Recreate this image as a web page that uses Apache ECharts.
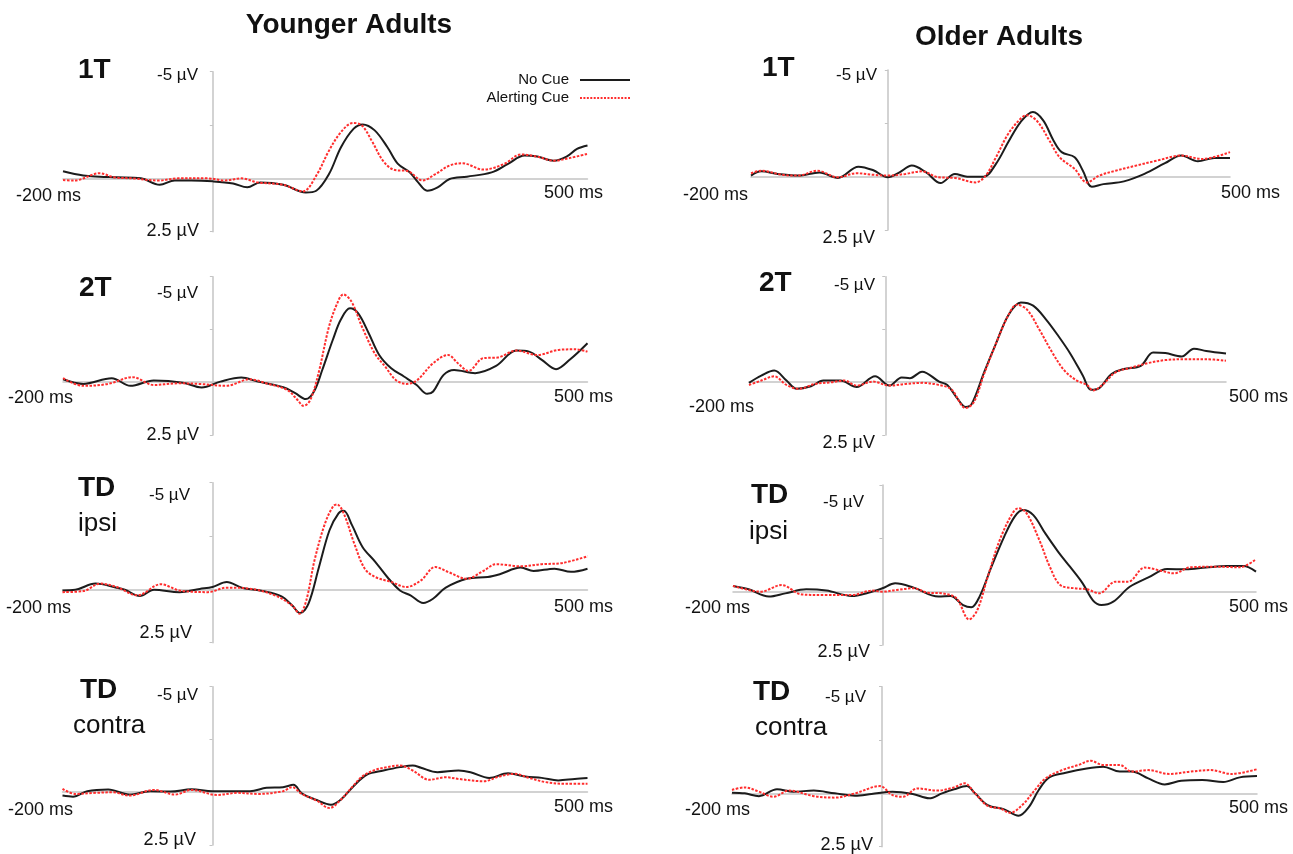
<!DOCTYPE html>
<html>
<head>
<meta charset="utf-8">
<script src="https://cdn.jsdelivr.net/npm/echarts@6/dist/echarts.min.js"></script>
<style>
html,body{margin:0;padding:0;background:#fff;}
#chart{width:1293px;height:854px;}
</style>
</head>
<body>
<div id="chart"></div>
<script>
// ---------- DATA (time in ms, amplitude in µV; negative plotted up) ----------
const columnTitles = ['Younger Adults', 'Older Adults'];
const seriesNames = ['No Cue', 'Alerting Cue'];
const panelTags = ['1T', '2T', 'TD', 'TD'];
const panelSubTags = ['', '', 'ipsi', 'contra'];
const yTopLabel = '-5 µV';
const yBottomLabel = '2.5 µV';
const xLeftLabel = '-200 ms';
const xRightLabel = '500 ms';

// Younger adults
const yng1T_noCue = [[-200,-0.33],[-173,-0.13],[-151,-0.08],[-129,-0.05],[-96,0],[-71,0.3],[-51,0.1],[-29,0.1],[0,0.14],[27,0.24],[46,0.42],[63,0.19],[94,0.3],[124,0.66],[138,0.58],[155,-0.2],[171,-1.46],[188,-2.33],[200,-2.53],[216,-2.25],[233,-1.46],[247,-0.68],[263,-0.28],[274,0.19],[286,0.58],[300,0.42],[316,0.03],[339,-0.08],[372,-0.28],[394,-0.68],[416,-1.07],[433,-1.02],[455,-0.83],[472,-1.02],[486,-1.38],[500,-1.54]];
const yng1T_alert = [[-200,0.08],[-185,0.1],[-151,-0.24],[-132,-0.05],[-107,0],[-73,0.1],[-46,0],[-7,0],[16,0.1],[38,0],[60,0.19],[94,0.3],[120,0.61],[138,-0.13],[155,-1.3],[171,-2.17],[187,-2.6],[199,-2.48],[213,-1.7],[227,-0.83],[241,-0.41],[261,-0.33],[280,0.1],[297,-0.2],[316,-0.6],[333,-0.71],[361,-0.41],[389,-0.68],[411,-1.12],[433,-1.02],[455,-0.83],[477,-0.96],[500,-1.15]];
const yng2T_noCue = [[-200,-0.14],[-173,0.08],[-135,-0.19],[-110,0.17],[-79,-0.08],[-40,0.02],[-15,0.25],[10,-0.03],[38,-0.22],[60,-0.03],[94,0.24],[110,0.52],[124,0.8],[135,0.44],[146,-0.58],[160,-2.0],[171,-2.98],[183,-3.5],[194,-3.26],[208,-2.32],[222,-1.29],[238,-0.66],[255,-0.27],[272,0.13],[286,0.55],[294,0.44],[308,-0.35],[322,-0.58],[350,-0.43],[378,-0.77],[405,-1.5],[422,-1.45],[439,-1.06],[458,-0.62],[477,-1.09],[500,-1.85]];
const yng2T_alert = [[-200,-0.19],[-173,0.17],[-140,0.08],[-107,-0.24],[-79,0.13],[-46,0.05],[-18,0.08],[18,0.17],[49,-0.14],[71,0.05],[99,0.36],[113,0.84],[121,1.12],[130,0.84],[141,-0.43],[155,-2.63],[166,-3.74],[174,-4.16],[185,-3.82],[199,-2.63],[216,-1.37],[230,-0.74],[244,-0.11],[258,0.08],[272,-0.08],[294,-0.9],[314,-1.29],[327,-0.9],[341,-0.54],[361,-1.14],[380,-1.17],[405,-1.5],[433,-1.29],[461,-1.53],[483,-1.56],[500,-1.45]];
const yngTDi_noCue = [[-200,0.05],[-183,0.02],[-156,-0.27],[-128,-0.08],[-117,0.02],[-97,0.31],[-78,0.02],[-44,0.13],[-17,-0.02],[0,-0.11],[19,-0.34],[39,-0.08],[67,0.08],[92,0.33],[106,0.75],[117,1.11],[128,0.67],[142,-1.05],[156,-2.77],[168,-3.56],[175,-3.68],[186,-3.01],[200,-1.99],[217,-1.29],[233,-0.58],[250,0.05],[264,0.28],[281,0.64],[294,0.44],[311,-0.08],[339,-0.5],[367,-0.58],[383,-0.71],[411,-1.02],[428,-0.86],[456,-0.97],[478,-0.82],[500,-0.97]];
const yngTDi_alert = [[-200,0.13],[-172,0.08],[-150,-0.27],[-128,-0.11],[-100,0.28],[-69,-0.24],[-44,0.05],[-6,0.13],[19,-0.08],[50,-0.03],[83,0.28],[106,0.75],[116,1.14],[125,0.52],[136,-1.36],[150,-3.09],[161,-3.9],[166,-3.98],[175,-3.56],[189,-2.15],[203,-0.97],[217,-0.58],[239,-0.34],[258,-0.11],[278,-0.42],[297,-1.05],[314,-0.82],[339,-0.5],[361,-0.86],[378,-1.18],[411,-1.08],[439,-1.18],[467,-1.24],[500,-1.55]];
const yngTDc_noCue = [[-200,0.16],[-186,0.21],[-167,-0.05],[-139,-0.13],[-111,0.11],[-83,-0.05],[-56,-0.03],[-28,-0.14],[0,-0.05],[28,-0.05],[50,-0.05],[72,-0.21],[94,-0.24],[108,-0.35],[119,0.05],[139,0.37],[158,0.59],[172,0.32],[189,-0.32],[206,-0.84],[228,-1.03],[250,-1.19],[267,-1.27],[278,-1.16],[300,-0.95],[328,-1.03],[344,-0.95],[369,-0.68],[394,-0.9],[417,-0.75],[439,-0.68],[461,-0.56],[483,-0.63],[500,-0.67]];
const yngTDc_alert = [[-200,-0.16],[-183,0.08],[-156,0.03],[-133,0],[-111,0.16],[-78,-0.11],[-50,0.11],[-28,-0.11],[6,0.13],[33,0.03],[61,0.08],[94,-0.05],[106,-0.24],[119,0.08],[139,0.4],[156,0.75],[169,0.43],[186,-0.24],[200,-0.75],[217,-1.06],[233,-1.19],[250,-1.27],[267,-1.03],[289,-0.59],[311,-0.71],[328,-0.63],[361,-0.52],[383,-0.75],[403,-0.87],[422,-0.68],[444,-0.48],[472,-0.4],[500,-0.4]];

// Older adults
const old1T_noCue = [[-200,-0.05],[-185,-0.25],[-161,-0.13],[-131,-0.05],[-100,-0.2],[-73,0.06],[-43,-0.47],[-22,-0.31],[0,0.03],[17,-0.2],[35,-0.52],[56,-0.2],[77,0.3],[98,-0.13],[116,0],[140,0],[158,-0.6],[176,-1.62],[194,-2.56],[212,-3.03],[227,-2.64],[242,-1.7],[254,-1.15],[273,-0.91],[285,-0.28],[298,0.47],[315,0.35],[345,0.22],[375,-0.13],[405,-0.63],[429,-0.99],[453,-0.72],[477,-0.88],[500,-0.88]];
const old1T_alert = [[-200,-0.16],[-185,-0.28],[-155,-0.09],[-131,-0.05],[-103,-0.28],[-73,0.03],[-46,-0.16],[-22,-0.09],[0,-0.05],[26,-0.13],[50,-0.25],[74,0.03],[98,0.06],[128,0.27],[143,-0.05],[158,-0.91],[176,-2.01],[194,-2.72],[203,-2.88],[218,-2.61],[236,-1.7],[251,-0.91],[273,-0.36],[291,0.27],[309,-0.05],[333,-0.28],[363,-0.52],[393,-0.75],[429,-0.99],[459,-0.83],[500,-1.15]];
const old2T_noCue = [[-200,0.03],[-182,-0.31],[-163,-0.55],[-145,-0.08],[-130,0.31],[-109,0.19],[-91,-0.08],[-66,-0.08],[-42,0.23],[-15,-0.28],[6,0.16],[24,-0.23],[36,-0.19],[54,-0.5],[79,-0.03],[91,0.13],[106,0.78],[118,1.17],[127,1.02],[145,-0.47],[163,-1.88],[181,-3.2],[199,-3.78],[217,-3.63],[236,-2.97],[254,-2.19],[272,-1.33],[290,-0.31],[302,0.36],[314,0.28],[332,-0.39],[350,-0.63],[375,-0.78],[393,-1.41],[411,-1.38],[435,-1.22],[453,-1.59],[471,-1.48],[500,-1.36]];
const old2T_alert = [[-200,0.13],[-182,-0.08],[-163,-0.28],[-145,0.13],[-127,0.31],[-103,0.08],[-79,0],[-60,-0.08],[-42,0.16],[-18,-0.03],[6,0.16],[30,0.08],[54,0.03],[79,0.13],[97,0.34],[118,1.22],[130,0.94],[145,-0.39],[163,-1.88],[181,-3.2],[193,-3.67],[208,-3.44],[226,-2.5],[245,-1.41],[263,-0.55],[281,-0.08],[296,0.13],[305,0.39],[320,0.08],[338,-0.47],[362,-0.7],[386,-0.91],[411,-1.05],[441,-1.09],[471,-1.09],[500,-1.02]];
const oldTDi_noCue = [[-200,-0.27],[-179,-0.11],[-152,0.23],[-130,0.08],[-102,-0.11],[-75,-0.05],[-41,0.2],[-19,0.05],[0,-0.16],[17,-0.39],[41,-0.2],[75,0.23],[91,0.2],[108,0.63],[119,0.73],[130,0.23],[146,-1.17],[163,-2.58],[177,-3.52],[188,-3.83],[202,-3.59],[218,-2.73],[235,-1.88],[251,-1.17],[268,-0.39],[282,0.42],[293,0.63],[309,0.47],[331,-0.23],[356,-0.67],[381,-1.06],[406,-1.05],[433,-1.13],[461,-1.2],[483,-1.2],[500,-0.94]];
const oldTDi_alert = [[-200,-0.27],[-179,-0.08],[-163,0],[-135,-0.31],[-108,0.13],[-75,0.16],[-41,0.16],[-14,-0.05],[0,0],[19,-0.08],[41,-0.16],[61,0.05],[80,0.08],[99,0.31],[116,1.3],[127,0.86],[141,-0.7],[157,-2.42],[174,-3.67],[182,-3.91],[193,-3.67],[210,-2.42],[224,-1.17],[238,-0.31],[257,-0.16],[274,-0.11],[290,0.08],[312,-0.47],[329,-0.47],[351,-1.13],[373,-0.98],[390,-0.86],[412,-1.14],[450,-1.17],[478,-1.14],[500,-1.52]];
const oldTDc_noCue = [[-200,-0.03],[-183,0],[-164,0.13],[-140,-0.19],[-118,-0.08],[-91,-0.13],[-63,0],[-36,0.11],[-14,0.03],[14,-0.08],[41,0.03],[63,0.23],[80,0],[96,-0.19],[113,-0.34],[124,0],[141,0.55],[163,0.75],[182,1.05],[196,0.63],[209,-0.16],[223,-0.75],[245,-0.97],[273,-1.17],[295,-1.25],[317,-1.02],[333,-1.02],[355,-0.7],[377,-0.42],[399,-0.59],[427,-0.63],[455,-0.53],[477,-0.75],[500,-0.81]];
const oldTDc_alert = [[-200,-0.16],[-183,-0.28],[-164,-0.08],[-145,0.16],[-124,-0.13],[-91,0.13],[-63,0.2],[-36,0],[-3,-0.34],[14,0.08],[28,0.16],[47,-0.23],[74,-0.13],[96,-0.28],[110,-0.47],[124,0],[141,0.59],[157,0.7],[171,0.91],[187,0.55],[204,-0.16],[218,-0.7],[240,-1.09],[262,-1.33],[278,-1.53],[295,-1.33],[317,-1.33],[333,-1.02],[355,-1.09],[383,-0.91],[411,-1.02],[438,-1.09],[466,-0.91],[500,-1.13]];

const panelData = [
  [yng1T_noCue, yng1T_alert], [yng2T_noCue, yng2T_alert], [yngTDi_noCue, yngTDi_alert], [yngTDc_noCue, yngTDc_alert],
  [old1T_noCue, old1T_alert], [old2T_noCue, old2T_alert], [oldTDi_noCue, oldTDi_alert], [oldTDc_noCue, oldTDc_alert]
];

// ---------- LAYOUT ----------
const grids = [
  {left:63, top:71.7, width:524.5, height:160},
  {left:63, top:276.7, width:524.5, height:158.3},
  {left:62.5, top:482.7, width:525, height:160},
  {left:62.5, top:686.7, width:525, height:158.3},
  {left:751, top:70, width:479, height:160},
  {left:749, top:276.7, width:477, height:158.3},
  {left:733, top:485, width:523, height:160},
  {left:732, top:686.7, width:525, height:160}
];
const lab = [
  {tag:[78,70], sub:null, yTop:[198,75], yBot:[199,231], xL:[16,196], xR:[544,193]},
  {tag:[79,288], sub:null, yTop:[198,293], yBot:[199,435], xL:[8,398], xR:[554,397]},
  {tag:[78,488], sub:[78,524], yTop:[190,495], yBot:[192,633], xL:[6,608], xR:[554,607]},
  {tag:[80,690], sub:[73,726], yTop:[198,695], yBot:[196,840], xL:[8,810], xR:[554,807]},
  {tag:[762,68], sub:null, yTop:[877,75], yBot:[875,238], xL:[683,195], xR:[1221,193]},
  {tag:[759,283], sub:null, yTop:[875,285], yBot:[875,443], xL:[689,407], xR:[1229,397]},
  {tag:[751,495], sub:[749,532], yTop:[864,502], yBot:[870,652], xL:[685,608], xR:[1229,607]},
  {tag:[753,692], sub:[755,728], yTop:[866,697], yBot:[873,845], xL:[685,810], xR:[1229,808]}
];

const FONT = '"Liberation Sans", Arial, sans-serif';
const axisColor = '#c4c4c4';
const textColor = '#111';
const blackColor = '#1c1c1c';
const redColor = '#ff2d2d';

// legend icon paths: solid bar and dotted bar
const solidIcon = 'path://M0,0h50v2h-50z';
let dotted = 'path://';
for (let x = 0; x < 50; x += 3.5) dotted += 'M' + x + ',0h2v2h-2z';

const xAxes = [], yAxes = [], series = [], graphics = [];
grids.forEach((g, i) => {
  xAxes.push({
    type:'value', gridIndex:i, min:-200, max:500,
    axisLine:{show:true, onZero:true, lineStyle:{color:axisColor, width:1.5}},
    axisTick:{show:false}, axisLabel:{show:false}, splitLine:{show:false}
  });
  yAxes.push({
    type:'value', gridIndex:i, min:-5, max:2.5, interval:2.5, inverse:true,
    axisLine:{show:true, onZero:true, lineStyle:{color:axisColor, width:1.5}},
    axisTick:{show:true, length:3, lineStyle:{color:axisColor}},
    axisLabel:{show:false}, splitLine:{show:false}
  });
  const [nc, ac] = panelData[i];
  series.push({
    name:seriesNames[0], type:'line', xAxisIndex:i, yAxisIndex:i, data:nc,
    smooth:0.35, symbol:'none', showSymbol:false, z:3,
    lineStyle:{color:blackColor, width:2}, itemStyle:{color:blackColor}
  });
  series.push({
    name:seriesNames[1], type:'line', xAxisIndex:i, yAxisIndex:i, data:ac,
    smooth:0.35, symbol:'none', showSymbol:false, z:4,
    lineStyle:{color:redColor, width:2, type:[2.5,1.5]}, itemStyle:{color:redColor}
  });

  const L = lab[i], row = i % 4;
  const txt = (s, pos, align, size, weight) => graphics.push({
    type:'text', x:pos[0], y:pos[1], silent:true,
    style:{text:s, fill:textColor, font:(weight||'normal') + ' ' + size + 'px ' + FONT,
           textAlign:align, textVerticalAlign:'middle'}
  });
  txt(panelTags[row], L.tag, 'left', 28, 'bold');
  if (L.sub) txt(panelSubTags[row], L.sub, 'left', 26);
  txt(yTopLabel, L.yTop, 'right', 17);
  txt(yBottomLabel, L.yBot, 'right', 18);
  txt(xLeftLabel, L.xL, 'left', 18);
  txt(xRightLabel, L.xR, 'left', 18);
});

graphics.push({type:'text', x:349, y:25, silent:true,
  style:{text:columnTitles[0], fill:textColor, font:'bold 28px ' + FONT, textAlign:'center', textVerticalAlign:'middle'}});
graphics.push({type:'text', x:999, y:37, silent:true,
  style:{text:columnTitles[1], fill:textColor, font:'bold 28px ' + FONT, textAlign:'center', textVerticalAlign:'middle'}});

const chart = echarts.init(document.getElementById('chart'), null, {renderer:'canvas'});
chart.setOption({
  animation:false,
  backgroundColor:'#fff',
  grid:grids.map(g => Object.assign({containLabel:false}, g)),
  xAxis:xAxes, yAxis:yAxes, series:series,
  legend:{
    data:[
      {name:seriesNames[0], icon:solidIcon, itemStyle:{color:blackColor}},
      {name:seriesNames[1], icon:dotted, itemStyle:{color:redColor}}
    ],
    orient:'vertical', right:658, top:67, align:'right',
    itemWidth:50, itemHeight:2, itemGap:2, selectedMode:false,
    textStyle:{fontFamily:FONT, fontSize:15, color:textColor, lineHeight:16, padding:[0,6,0,0]}
  },
  graphic:graphics
});
</script>
</body>
</html>
